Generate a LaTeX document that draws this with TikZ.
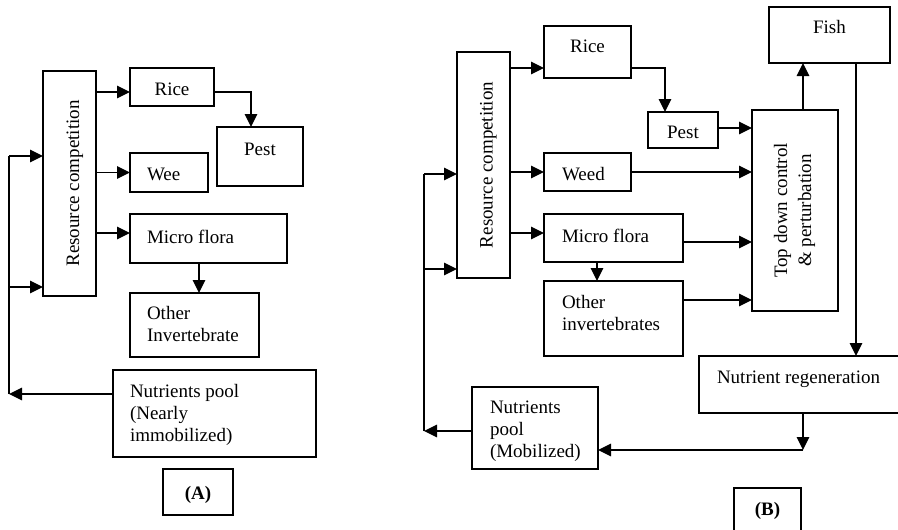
\documentclass[tikz,border=0pt]{standalone}
\usepackage{fontspec}
\setmainfont{Liberation Serif}
\usetikzlibrary{arrows.meta,calc}
\newcommand\Tl[3]{\raisebox{#1pt}[0pt][0pt]{\makebox[#2pt][l]{\begin{tabular}[t]{@{}l@{}}#3\end{tabular}}}}
\newcommand\Tc[2]{\raisebox{#1pt}[0pt][0pt]{\begin{tabular}[t]{@{}c@{}}#2\end{tabular}}}
\begin{document}
\begin{tikzpicture}[x=1pt,y=-1pt,
  font=\fontsize{19}{22}\selectfont,
  bx/.style={draw, line width=1.3pt, inner sep=0pt, outer sep=0pt, anchor=north west},
  ln/.style={line width=1.3pt},
  arr/.style={line width=1.3pt, -{Triangle[length=13pt,width=12.5pt]}}]
\useasboundingbox (0,0) rectangle (898,530);
% ---------------- Panel A ----------------
\node[bx, minimum width=53, minimum height=225] (rcA) at (43,71) {\rotatebox{90}{\Tc{-9.5}{Resource competition}}};
\node[bx, minimum width=84, minimum height=38] (riceA) at (130,68) {\Tc{-8}{Rice}};
\node[bx, minimum width=86, minimum height=59] (pestA) at (217,127) {\Tc{1.5}{Pest}};
\node[bx, minimum width=78, minimum height=39] (weeA) at (130,153) {\Tl{-7.5}{44}{Wee}};
\node[bx, minimum width=157, minimum height=49] (microA) at (130,214) {\Tl{-4.5}{123}{Micro flora}};
\node[bx, minimum width=129, minimum height=64] (otherA) at (130,293) {\Tl{6}{95}{Other\\Invertebrate}};
\node[bx, minimum width=203, minimum height=87] (poolA) at (113,370) {\Tl{16.5}{169}{Nutrients pool\\(Nearly\\immobilized)}};
\node[bx, minimum width=70, minimum height=46] (labA) at (163,469) {\Tc{-7}{\textbf{(A)}}};

\coordinate (a1) at ($(riceA.west)+(0,5)$);
\coordinate (a2) at ($(microA.west)+(0,-5.5)$);
\coordinate (a3) at ($(microA.south)+(-9.5,0)$);
\coordinate (a4) at ($(poolA.west)+(0,-19.5)$);
\coordinate (a5) at ($(rcA.north west)+(0,85)$);
\coordinate (a6) at ($(rcA.north west)+(0,216)$);
\coordinate (fbA) at (9,394);
\coordinate (pA) at ($(pestA.north)+(-9,0)$);

\draw[arr] (rcA.east |- a1) -- (a1);
\draw[arr] (rcA.east |- weeA.west) -- (weeA.west);
\draw[arr] (rcA.east |- a2) -- (a2);
\draw[arr] (riceA.east |- a1) -| (pA);
\draw[arr] (a3) -- (a3 |- otherA.north);
\draw[arr] (a4) -- (fbA);
\draw[ln] (fbA) -- (fbA |- a5);
\draw[arr] (fbA |- a5) -- (a5);
\draw[arr] (fbA |- a6) -- (a6);

% ---------------- Panel B ----------------
\node[bx, minimum width=53, minimum height=226] (rcB) at (457,52) {\rotatebox{90}{\Tc{-9}{Resource competition}}};
\node[bx, minimum width=87, minimum height=52] (riceB) at (544,26) {\Tc{-1}{Rice}};
\node[bx, minimum width=70, minimum height=36] (pestB) at (648,112) {\Tc{-8}{Pest}};
\node[bx, minimum width=87, minimum height=38] (weedB) at (544,153) {\Tl{-8}{51}{Weed}};
\node[bx, minimum width=139, minimum height=48] (microB) at (544,214) {\Tl{-4}{103}{Micro flora}};
\node[bx, minimum width=139, minimum height=75] (otherB) at (544,281) {\Tl{10.5}{103}{Other\\invertebrates}};
\node[bx, minimum width=126, minimum height=82] (poolB) at (472,387) {\Tl{15}{90}{Nutrients\\pool\\(Mobilized)}};
\node[bx, minimum width=86, minimum height=201] (topB) at (752,110) {\rotatebox{90}{\Tc{8}{Top down control\\[2pt]\& perturbation}}};
\node[bx, minimum width=121, minimum height=56] (fishB) at (769,7) {\Tc{2}{Fish}};
\node[bx, draw=none, minimum width=199, minimum height=57] (nrB) at (699,356) {\Tl{1.5}{163}{Nutrient regeneration}};
\node[bx, draw=none, minimum width=67, minimum height=42] (labB) at (734,488) {\Tc{-6}{\textbf{(B)}}};
\draw[ln] (nrB.north east) -- (nrB.north west) -- (nrB.south west) -- (nrB.south east);
\draw[ln] (labB.south west) -- (labB.north west) -- (labB.north east) -- (labB.south east);

\coordinate (b1) at ($(riceB.west)+(0,16)$);
\coordinate (b2) at ($(microB.west)+(0,-5)$);
\coordinate (b3) at ($(pestB.north)+(-18,0)$);
\coordinate (b4) at ($(pestB.east)+(0,-2)$);
\coordinate (b5) at ($(microB.east)+(0,4)$);
\coordinate (b6) at ($(otherB.east)+(0,-18.5)$);
\coordinate (b7) at ($(microB.south)+(-16.5,0)$);
\coordinate (b8) at ($(topB.north)+(8,0)$);
\coordinate (b9) at ($(fishB.south)+(26.5,0)$);
\coordinate (b10) at ($(nrB.south)+(4.5,0)$);
\coordinate (cB) at ($(b10)+(0,37)$);
\coordinate (b11) at ($(poolB.west)+(0,3)$);
\coordinate (fbB) at (424,431);
\coordinate (b12) at ($(rcB.north west)+(0,122)$);
\coordinate (b13) at ($(rcB.north west)+(0,217)$);

\draw[arr] (rcB.east |- b1) -- (b1);
\draw[arr] (rcB.east |- weedB.west) -- (weedB.west);
\draw[arr] (rcB.east |- b2) -- (b2);
\draw[arr] (riceB.east |- b1) -| (b3);
\draw[arr] (b4) -- (b4 -| topB.west);
\draw[arr] (weedB.east) -- (weedB.east -| topB.west);
\draw[arr] (b5) -- (b5 -| topB.west);
\draw[arr] (b6) -- (b6 -| topB.west);
\draw[arr] (b7) -- (b7 |- otherB.north);
\draw[arr] (b8) -- (b8 |- fishB.south);
\draw[arr] (b9) -- (b9 |- nrB.north);
\draw[arr] (b10) -- (cB);
\draw[arr] (cB) -- (cB -| poolB.east);
\draw[arr] (b11) -- (fbB);
\draw[ln] (fbB) -- (fbB |- b12);
\draw[arr] (fbB |- b12) -- (b12);
\draw[arr] (fbB |- b13) -- (b13);
\end{tikzpicture}
\end{document}
